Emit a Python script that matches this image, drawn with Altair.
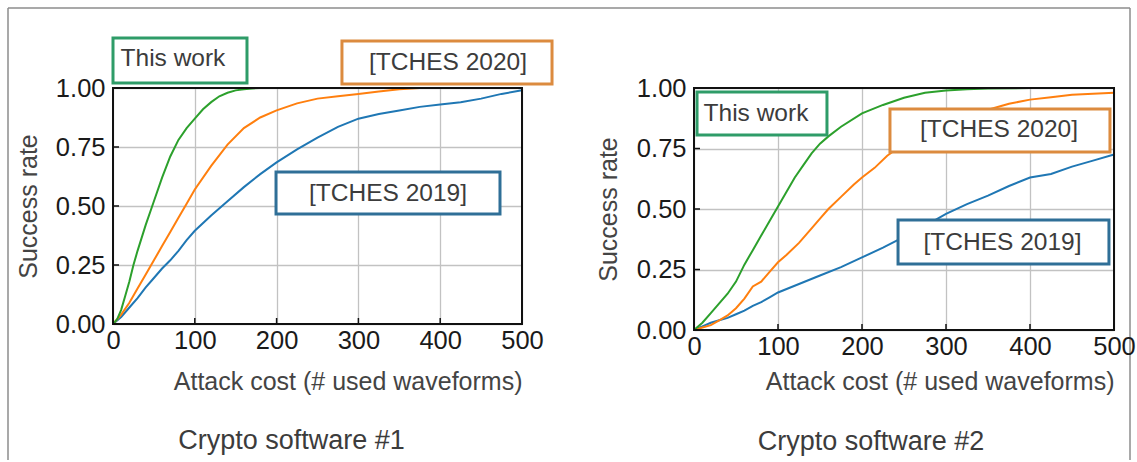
import altair as alt
import pandas as pd

FONT = "Liberation Sans"

X_TICKS = [0, 100, 200, 300, 400, 500]
Y_TICKS = [0.0, 0.25, 0.5, 0.75, 1.0]

SERIES = ["[TCHES 2019]", "[TCHES 2020]", "This work"]
LINE_COLORS = ["#1f77b4", "#ff7f0e", "#2ca02c"]
BOX_COLORS = ["#2f6f97", "#dc8b3f", "#2e9c68"]

# ---- Crypto software #1 : success rate vs. number of waveforms ----
sw1_2019_cost = [0, 10, 20, 30, 40, 50, 60, 70, 80, 90, 100, 120, 140, 160, 180, 200,
                 225, 250, 275, 300, 325, 350, 375, 400, 425, 450, 475, 500]
sw1_2019_rate = [0, 0.03, 0.07, 0.11, 0.155, 0.195, 0.235, 0.27, 0.31, 0.355, 0.395,
                 0.46, 0.52, 0.58, 0.635, 0.685, 0.74, 0.79, 0.835, 0.87, 0.89, 0.905,
                 0.92, 0.93, 0.94, 0.955, 0.975, 0.99]

sw1_2020_cost = [0, 10, 20, 30, 40, 50, 60, 70, 80, 90, 100, 120, 140, 160, 180, 200,
                 225, 250, 275, 300, 325, 350, 375, 400, 450, 500]
sw1_2020_rate = [0, 0.04, 0.09, 0.15, 0.21, 0.27, 0.33, 0.39, 0.45, 0.51, 0.57, 0.67,
                 0.76, 0.83, 0.875, 0.905, 0.935, 0.955, 0.965, 0.975, 0.985, 0.995,
                 1.0, 1.0, 1.0, 1.0]

sw1_work_cost = [0, 5, 10, 15, 20, 25, 30, 40, 50, 60, 70, 80, 90, 100, 110, 120, 130,
                 140, 150, 160, 170, 180, 200, 250, 300, 400, 500]
sw1_work_rate = [0, 0.02, 0.06, 0.12, 0.18, 0.25, 0.31, 0.42, 0.52, 0.62, 0.71, 0.78,
                 0.83, 0.87, 0.91, 0.94, 0.965, 0.98, 0.99, 0.995, 0.998, 1.0, 1.0,
                 1.0, 1.0, 1.0, 1.0]

# ---- Crypto software #2 ----
sw2_2019_cost = [0, 10, 20, 30, 40, 50, 60, 70, 80, 90, 100, 125, 150, 175, 200, 225,
                 250, 275, 300, 325, 350, 375, 400, 425, 450, 475, 500]
sw2_2019_rate = [0, 0.015, 0.03, 0.04, 0.05, 0.065, 0.08, 0.1, 0.115, 0.135, 0.155,
                 0.19, 0.225, 0.26, 0.3, 0.34, 0.385, 0.43, 0.48, 0.52, 0.555, 0.595,
                 0.63, 0.645, 0.675, 0.7, 0.725]

sw2_2020_cost = [0, 10, 20, 30, 40, 50, 60, 70, 80, 90, 100, 110, 125, 140, 150, 160,
                 175, 190, 200, 215, 230, 250, 275, 300, 325, 350, 375, 400, 425, 450,
                 475, 500]
sw2_2020_rate = [0, 0.01, 0.02, 0.04, 0.06, 0.09, 0.13, 0.18, 0.2, 0.24, 0.28, 0.31,
                 0.36, 0.42, 0.46, 0.5, 0.55, 0.6, 0.63, 0.67, 0.72, 0.77, 0.81, 0.85,
                 0.885, 0.91, 0.935, 0.952, 0.962, 0.972, 0.976, 0.98]

sw2_work_cost = [0, 10, 20, 30, 40, 50, 60, 70, 80, 90, 100, 110, 120, 130, 140, 150,
                 160, 175, 200, 225, 250, 275, 300, 325, 350, 400, 450, 500]
sw2_work_rate = [0, 0.03, 0.07, 0.11, 0.15, 0.2, 0.27, 0.33, 0.39, 0.45, 0.51, 0.57,
                 0.63, 0.68, 0.73, 0.77, 0.8, 0.84, 0.895, 0.93, 0.96, 0.98, 0.99,
                 0.995, 0.998, 1.0, 1.0, 1.0]

# Label boxes, in data units (cost, success rate): box corners and text anchor
sw1_boxes = pd.DataFrame({
    "label": ["[TCHES 2019]", "[TCHES 2020]", "This work"],
    "x": [199.3, 279.9, 0.0], "x2": [473.1, 536.7, 163.8],
    "y": [0.644, 1.199, 1.212], "y2": [0.466, 1.017, 1.021],
    "tx": [336.2, 409.5, 73.3], "ty": [0.551, 1.106, 1.123],
})
sw2_boxes = pd.DataFrame({
    "label": ["[TCHES 2019]", "[TCHES 2020]", "This work"],
    "x": [242.9, 233.3, 3.6], "x2": [494.0, 495.2, 158.3],
    "y": [0.4545, 0.9132, 0.9835], "y2": [0.2727, 0.7355, 0.8058],
    "tx": [367.3, 363.1, 73.8], "ty": [0.3595, 0.8264, 0.8905],
})


def panel(curves, boxes, caption, cap_pos, w, h, xtitle_y, ytitle_x, border=False):
    xs = alt.Scale(domain=[0, 500], nice=False, zero=False)
    ys = alt.Scale(domain=[0, 1], nice=False, zero=False)

    x_axis = alt.Axis(values=X_TICKS, format="d", title="Attack cost (# used waveforms)",
                      grid=True, gridColor="#c2c2c2", gridWidth=1.3, domain=False,
                      ticks=False, tickSize=0, labelPadding=4, labelFlush=False,
                      labelOverlap=False, titleX=w, titleY=xtitle_y, titleAlign="right",
                      titleBaseline="middle")
    y_axis = alt.Axis(values=Y_TICKS, format=".2f", title="Success rate",
                      grid=True, gridColor="#c2c2c2", gridWidth=1.3, domain=False,
                      ticks=False, tickSize=0, labelPadding=8, labelFlush=False,
                      labelOverlap=False, titleX=ytitle_x, titleY=h / 2,
                      titleBaseline="middle")

    def X(field):
        return alt.X(field, scale=xs, axis=x_axis)

    def Y(field):
        return alt.Y(field, scale=ys, axis=y_axis)

    layers = []
    for (cost, rate), color in zip(curves, LINE_COLORS):
        df = pd.DataFrame({"cost": cost, "rate": rate})
        layers.append(
            alt.Chart(df).mark_line(color=color, strokeWidth=2).encode(
                x=X("cost:Q"), y=Y("rate:Q"))
        )

    # plot frame
    frame = pd.DataFrame({"x": [0], "x2": [500], "y": [0.0], "y2": [1.0]})
    layers.append(
        alt.Chart(frame).mark_rect(fill="transparent", stroke="#111111", strokeWidth=2).encode(
            x=X("x:Q"), x2="x2:Q", y=Y("y:Q"), y2="y2:Q")
    )

    # inward tick marks
    layers.append(
        alt.Chart(pd.DataFrame({"v": X_TICKS})).mark_rule(color="#111111", strokeWidth=1.5).encode(
            x=X("v:Q"), y=alt.value(h - 6), y2=alt.value(h))
    )
    layers.append(
        alt.Chart(pd.DataFrame({"v": Y_TICKS})).mark_rule(color="#111111", strokeWidth=1.5).encode(
            y=Y("v:Q"), x=alt.value(0), x2=alt.value(6))
    )

    # boxed series labels
    layers.append(
        alt.Chart(boxes).mark_rect(fill="white", strokeWidth=3).encode(
            x=X("x:Q"), x2="x2:Q", y=Y("y:Q"), y2="y2:Q",
            stroke=alt.Stroke("label:N", scale=alt.Scale(domain=SERIES, range=BOX_COLORS),
                              legend=None),
        )
    )
    layers.append(
        alt.Chart(boxes).mark_text(font=FONT, fontSize=24.5, color="#3c3c3c",
                                   align="center", baseline="middle").encode(
            x=X("tx:Q"), y=Y("ty:Q"), text="label:N")
    )

    # caption under the panel
    cap = pd.DataFrame({"x": [cap_pos[0]], "y": [cap_pos[1]], "t": [caption]})
    layers.append(
        alt.Chart(cap).mark_text(font=FONT, fontSize=27, color="#3c3c3c",
                                 align="center", baseline="middle").encode(
            x=X("x:Q"), y=Y("y:Q"), text="t:N")
    )

    if border:
        one = pd.DataFrame({"a": [0]})
        rule = dict(color="#8c8c8c", strokeWidth=1.5)
        layers.append(alt.Chart(one).mark_rule(**rule).encode(
            x=alt.value(-105), x2=alt.value(1017), y=alt.value(-80)))
        layers.append(alt.Chart(one).mark_rule(**rule).encode(
            x=alt.value(-105), y=alt.value(-80), y2=alt.value(372)))
        layers.append(alt.Chart(one).mark_rule(**rule).encode(
            x=alt.value(1017), y=alt.value(-80), y2=alt.value(372)))

    return alt.layer(*layers).properties(width=w, height=h)


left = panel(
    [(sw1_2019_cost, sw1_2019_rate), (sw1_2020_cost, sw1_2020_rate), (sw1_work_cost, sw1_work_rate)],
    sw1_boxes, "Crypto software #1", (218.2, -0.496), 409, 236, 57, -85, border=True,
)
right = panel(
    [(sw2_2019_cost, sw2_2019_rate), (sw2_2020_cost, sw2_2020_rate), (sw2_work_cost, sw2_work_rate)],
    sw2_boxes, "Crypto software #2", (210.7, -0.463), 420, 242, 51, -86,
)

chart = alt.hconcat(left, right, spacing=172, bounds="flush").properties(
    padding={"left": 6, "top": 6, "right": 0, "bottom": 0},
    background="white",
).configure_view(stroke="transparent").configure_axis(
    labelFont=FONT, labelFontSize=25.5, labelColor="#1a1a1a",
    titleFont=FONT, titleFontSize=25, titleColor="#444444", titleFontWeight="normal",
).resolve_scale(stroke="independent")

chart.save("out.html", embed_options={"renderer": "svg", "actions": False})
